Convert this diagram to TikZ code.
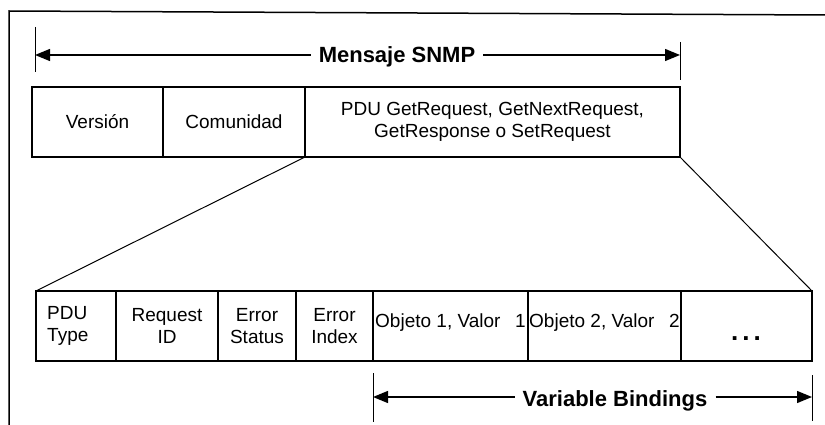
\documentclass[tikz,border=0pt]{standalone}
\usepackage{fontspec}
\setmainfont{Liberation Sans}
\usetikzlibrary{arrows.meta}
\begin{document}
\begin{tikzpicture}[x=1pt,y=-1pt,
  cell/.style={draw, line width=1.2pt, anchor=north west, inner sep=0pt, outer sep=0pt,
    align=center, minimum height=70pt, font=\fontsize{19}{22}\selectfont},
  lbl/.style={font=\fontsize{19}{22}\selectfont, inner sep=0pt},
  ttl/.style={font=\bfseries\fontsize{22}{24}\selectfont, inner ysep=0pt, inner xsep=8pt, anchor=base},
  tickline/.style={line width=1pt},
  dim/.style={line width=1.3pt, -{Triangle[length=15pt,width=12pt]}},
  fan/.style={line width=1pt},
  framel/.style={line width=1.5pt}]
\useasboundingbox (0,0) rectangle (825,425);

% frame (top and left edges)
\coordinate (fTL) at (9,11);
\coordinate (fTR) at (825,15);
\coordinate (fBL) at (9,425);
\draw[framel] (fTR) -- (fTL) -- (fBL);

% Mensaje SNMP dimension
\coordinate (mT1) at (35,27);
\coordinate (mT2) at (35,72);
\coordinate (mR1) at (680,42);
\coordinate (mR2) at (680,80);
\coordinate (mL) at (35,55);
\coordinate (mR) at (680,55);
\draw[tickline] (mT1) -- (mT2);
\draw[tickline] (mR1) -- (mR2);
\node[ttl] (msg) at (397,63) {Mensaje SNMP};
\draw[dim] (msg.west |- mL) -- (mL);
\draw[dim] (msg.east |- mR) -- (mR);

% top row
\node[cell, minimum width=131pt] (ver) at (32,87) {Versión};
\node[cell, minimum width=142pt] (com) at (163,87) {Comunidad};
\node[cell, minimum width=375pt] (pdu) at (305,87) {PDU GetRequest, GetNextRequest,\\GetResponse o SetRequest};

% bottom row
\node[cell, minimum width=80pt] (ptype) at (36,291) {};
\node[lbl, align=left, anchor=west] (ptypet) at (47,326) {PDU\\Type};
\node[cell, minimum width=102pt] (rid) at (116,291) {Request\\ID};
\node[cell, minimum width=78pt] (est) at (218,291) {Error\\Status};
\node[cell, minimum width=77pt] (eidx) at (296,291) {Error\\Index};
\node[cell, minimum width=155pt] (ob1) at (373,291) {};
\node[cell, minimum width=153pt] (ob2) at (528,291) {};
\node[cell, minimum width=131pt] (more) at (681,291) {};
\node[lbl, anchor=base west] (ob1a) at (375,327) {Objeto 1, Valor};
\node[lbl, anchor=base east] (ob1b) at (526,327) {1};
\node[lbl, anchor=base west] (ob2a) at (529,327) {Objeto 2, Valor};
\node[lbl, anchor=base east] (ob2b) at (680,327) {2};
\node[lbl, font=\bfseries\fontsize{26}{28}\selectfont, anchor=base] (dots) at (746,340) {.\kern4pt.\kern4pt.};

% fan lines
\draw[fan] (pdu.south west) -- (ptype.north west);
\draw[fan] (pdu.south east) -- (more.north east);

% Variable Bindings dimension
\coordinate (vT1) at (373,373);
\coordinate (vT2) at (373,422);
\coordinate (vR1) at (812,375);
\coordinate (vR2) at (812,421);
\coordinate (vL) at (373,397);
\coordinate (vR) at (812,397);
\draw[tickline] (vT1) -- (vT2);
\draw[tickline] (vR1) -- (vR2);
\node[ttl] (vb) at (615,406) {Variable Bindings};
\draw[dim] (vb.west |- vL) -- (vL);
\draw[dim] (vb.east |- vR) -- (vR);
\end{tikzpicture}
\end{document}
